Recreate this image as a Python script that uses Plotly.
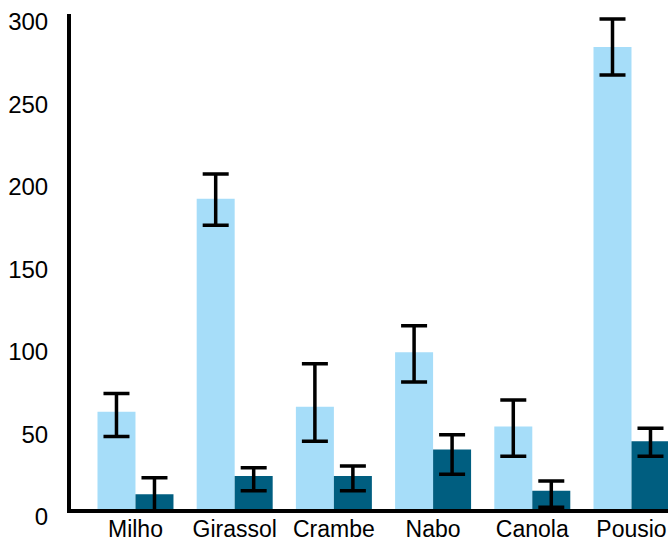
import plotly.graph_objects as go

categories = ["Milho", "Girassol", "Crambe", "Nabo", "Canola", "Pousio"]
light_vals = [59, 188, 62, 95, 50, 280]
light_err_plus = [11, 15, 26, 16, 16, 17]
light_err_minus = [15, 16, 21, 18, 18, 17]
dark_vals = [9, 20, 20, 36, 11, 41]
dark_err_plus = [10, 5, 6, 9, 6, 8]
dark_err_minus = [10, 9, 9, 15, 10, 9]
y_ticks = [0, 50, 100, 150, 200, 250, 300]

LIGHT = "#A6DDF9"
DARK = "#005E80"
FONT = "Liberation Sans, Arial, sans-serif"

err_style = dict(color="black", thickness=3.5, width=13)

fig = go.Figure()
fig.add_trace(go.Bar(
    x=categories, y=light_vals, marker=dict(color=LIGHT, line=dict(width=0)),
    error_y=dict(type="data", symmetric=False, array=light_err_plus,
                 arrayminus=light_err_minus, **err_style),
    showlegend=False,
))
fig.add_trace(go.Bar(
    x=categories, y=dark_vals, marker=dict(color=DARK, line=dict(width=0)),
    error_y=dict(type="data", symmetric=False, array=dark_err_plus,
                 arrayminus=dark_err_minus, **err_style),
    showlegend=False,
))

fig.update_layout(
    width=668, height=541,
    margin=dict(l=71, r=0, t=14, b=32, autoexpand=False),
    paper_bgcolor="white", plot_bgcolor="white",
    barmode="group", bargap=0.234, bargroupgap=0,
    font=dict(family=FONT, color="black"),
    xaxis=dict(
        type="category", range=[-0.65, 5.368], automargin=False,
        showline=True, linecolor="black", linewidth=4,
        showgrid=False, zeroline=False, ticks="",
        tickfont=dict(size=23, family=FONT, color="black"),
        ticklabelstandoff=-4,
    ),
    yaxis=dict(
        range=[0, 300.01], tickvals=y_ticks, automargin=False,
        showline=True, linecolor="black", linewidth=4,
        showgrid=False, zeroline=False, ticks="",
        tickfont=dict(size=24, family=FONT, color="black"),
        ticklabelstandoff=14, ticklabelshift=8,
    ),
)

fig.write_html(
    "out.html",
    config={"displayModeBar": False},
    post_script="document.body.style.margin='0';document.body.style.overflow='hidden';",
)
